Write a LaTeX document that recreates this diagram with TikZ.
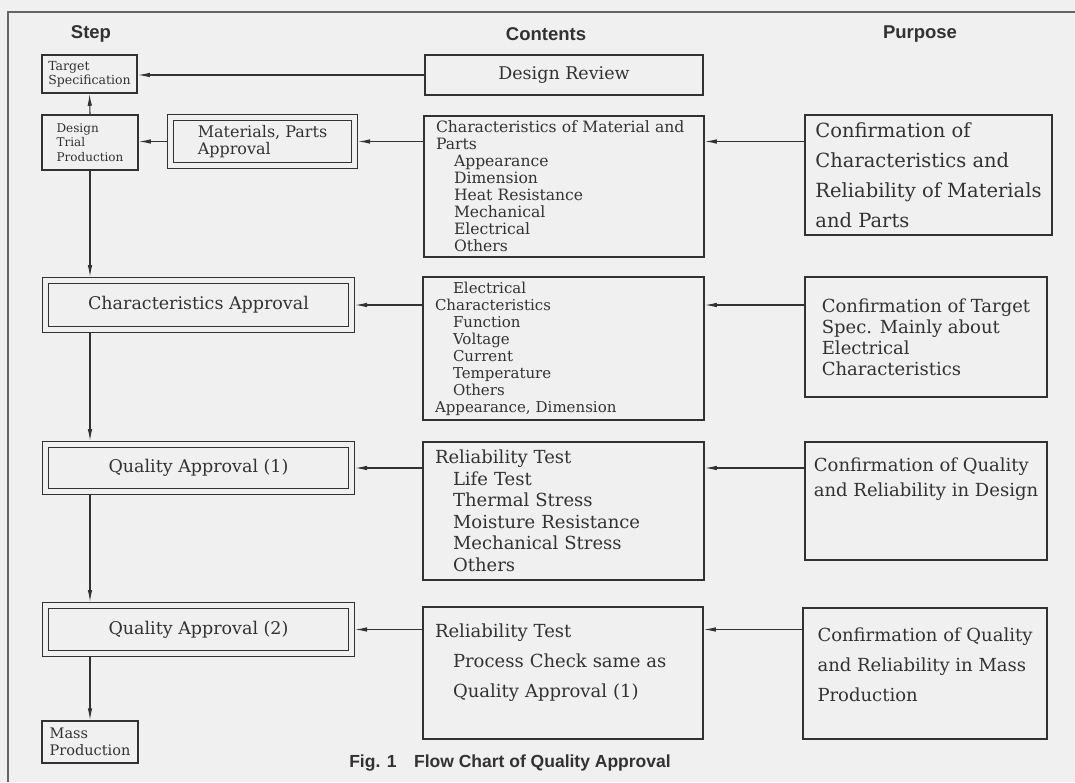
\documentclass[tikz,border=0pt]{standalone}
\usepackage{fontspec}
\setmainfont{DejaVu Serif}
\newfontfamily\headfont{Liberation Sans}
\usepackage{xcolor}
\usetikzlibrary{arrows.meta}

\definecolor{paper}{RGB}{240,240,240}
\definecolor{ink}{RGB}{50,50,50}

% indent for the sub items, and extra room under the last line
\newcommand\itemind{\hspace*{18pt}}
\newcommand\gapbelow[1]{\rule[-#1]{0pt}{#1}}

\tikzset{
  box/.style={draw=ink, fill=paper, line width=1.5pt, inner sep=0pt, text=ink, align=left},
  dbox/.style={box, line width=1.2pt, double=paper, double distance=4.6pt, outer sep=3.5pt},
  list/.style={box, text width=#1, inner xsep=12pt},
  head/.style={text=ink, font=\headfont\bfseries\fontsize{18.5}{20}\selectfont},
  flow/.style={draw=ink, line width=1.1pt, -{Latex[length=12pt,width=4.5pt]}},
  frame/.style={draw=ink!75, line width=1.4pt}
}

\begin{document}
\begin{tikzpicture}[x=1pt,y=-1pt]

\fill[paper] (0,0) rectangle (1075,782);
\useasboundingbox (0,0) rectangle (1075,782);
\draw[frame] (1075,12) -- (8,12) -- (8,782);

% column heads:
\node[head] (hstep) at (91,34) {Step};
\node[head] (hcont) at (546,34) {Contents};
\node[head] (hpurp) at (920,34) {Purpose};

% step column:
\node[box, minimum width=95pt, minimum height=38pt, font=\fontsize{12.5}{14}\selectfont] (tgt) at (89.5,74) {Target\\Specification};
\node[box, minimum width=96pt, minimum height=55pt, font=\fontsize{12}{14.7}\selectfont] (dtp) at (90,142.5) {Design\\Trial\\Production};
\node[dbox, minimum width=184pt, minimum height=48pt, font=\fontsize{16}{17}\selectfont] (mat) at (262.5,141.5) {Materials, Parts\\Approval};

\node[dbox, minimum width=306pt, minimum height=49pt, font=\fontsize{17.5}{18}\selectfont] (cha) at (198.5,305) {Characteristics Approval};
\node[dbox, minimum width=306pt, minimum height=47pt, font=\fontsize{17.5}{18}\selectfont] (qa1) at (198.5,468) {Quality Approval (1)};
\node[dbox, minimum width=306pt, minimum height=48pt, font=\fontsize{17.5}{18}\selectfont] (qa2) at (198.5,629.5) {Quality Approval (2)};

\node[box, minimum width=96pt, minimum height=42pt, font=\fontsize{14.5}{17}\selectfont] (mass) at (90,742) {Mass\\Production};

% contents column:
\node[box, minimum width=278pt, minimum height=40pt, align=center, font=\fontsize{17.5}{18}\selectfont] (rev) at (564,75) {Design Review};
\node[list=256pt, minimum height=141pt, font=\fontsize{15.6}{17}\selectfont] (cmat) at (564,186.5)
  {Characteristics of Material and\\Parts\\\itemind Appearance\\\itemind Dimension\\\itemind Heat Resistance\\\itemind Mechanical\\\itemind Electrical\\\itemind Others};
\node[list=257pt, minimum height=143pt, font=\fontsize{15}{17}\selectfont] (cel) at (563.5,348.5)
  {\itemind Electrical\\Characteristics\\\itemind Function\\\itemind Voltage\\\itemind Current\\\itemind Temperature\\\itemind Others\\Appearance, Dimension};
\node[list=257pt, minimum height=138pt, font=\fontsize{18}{21.5}\selectfont] (crel) at (563.5,511)
  {Reliability Test\\\itemind Life Test\\\itemind Thermal Stress\\\itemind Moisture Resistance\\\itemind Mechanical Stress\\\itemind Others};
\node[list=256pt, minimum height=132pt, font=\fontsize{18}{30}\selectfont] (cproc) at (563,673)
  {Reliability Test\\\itemind Process Check same as\\\itemind Quality Approval (1)\gapbelow{25pt}};

% purpose column:
\node[box, minimum width=247pt, minimum height=120pt, font=\fontsize{19.5}{30}\selectfont] (pmat) at (928.5,175)
  {Confirmation of\\Characteristics and\\Reliability of Materials\\and Parts};
\node[box, minimum width=242pt, minimum height=120pt, font=\fontsize{18}{21}\selectfont] (pel) at (926,337)
  {Confirmation of Target\\Spec. Mainly about\\Electrical\\Characteristics};
\node[box, minimum width=242pt, minimum height=118pt, font=\fontsize{18}{25}\selectfont] (prel) at (926,501)
  {Confirmation of Quality\\and Reliability in Design\gapbelow{47pt}};
\node[box, minimum width=244pt, minimum height=131pt, font=\fontsize{18}{30}\selectfont] (pmass) at (925,673.5)
  {Confirmation of Quality\\and Reliability in Mass\\Production\gapbelow{17pt}};

% arrows into the step column
\draw[flow] (rev.west) -- (rev.west -| tgt.east);
\draw[flow] (dtp.north) -- (tgt.south);
\draw[flow] (mat.west) -- (mat.west -| dtp.east);
\draw[flow] (mat.east -| cmat.west) -- (mat.east);
\draw[flow] (cha.east -| cel.west) -- (cha.east);
\draw[flow] (qa1.east -| crel.west) -- (qa1.east);
\draw[flow] (qa2.east -| cproc.west) -- (qa2.east);

% arrows from purpose to contents
\draw[flow] (mat.east -| pmat.west) -- (mat.east -| cmat.east);
\draw[flow] (cha.east -| pel.west) -- (cha.east -| cel.east);
\draw[flow] (qa1.east -| prel.west) -- (qa1.east -| crel.east);
\draw[flow] (qa2.east -| pmass.west) -- (qa2.east -| cproc.east);

% main flow down the left
\draw[flow] (dtp.south) -- (dtp.south |- cha.north);
\draw[flow] (dtp.south |- cha.south) -- (dtp.south |- qa1.north);
\draw[flow] (dtp.south |- qa1.south) -- (dtp.south |- qa2.north);
\draw[flow] (dtp.south |- qa2.south) -- (mass.north);

\node[head, font=\headfont\bfseries\fontsize{17.5}{19}\selectfont] (fig) at (510,763) {Fig. 1\quad Flow Chart of Quality Approval};

\end{tikzpicture}
\end{document}
